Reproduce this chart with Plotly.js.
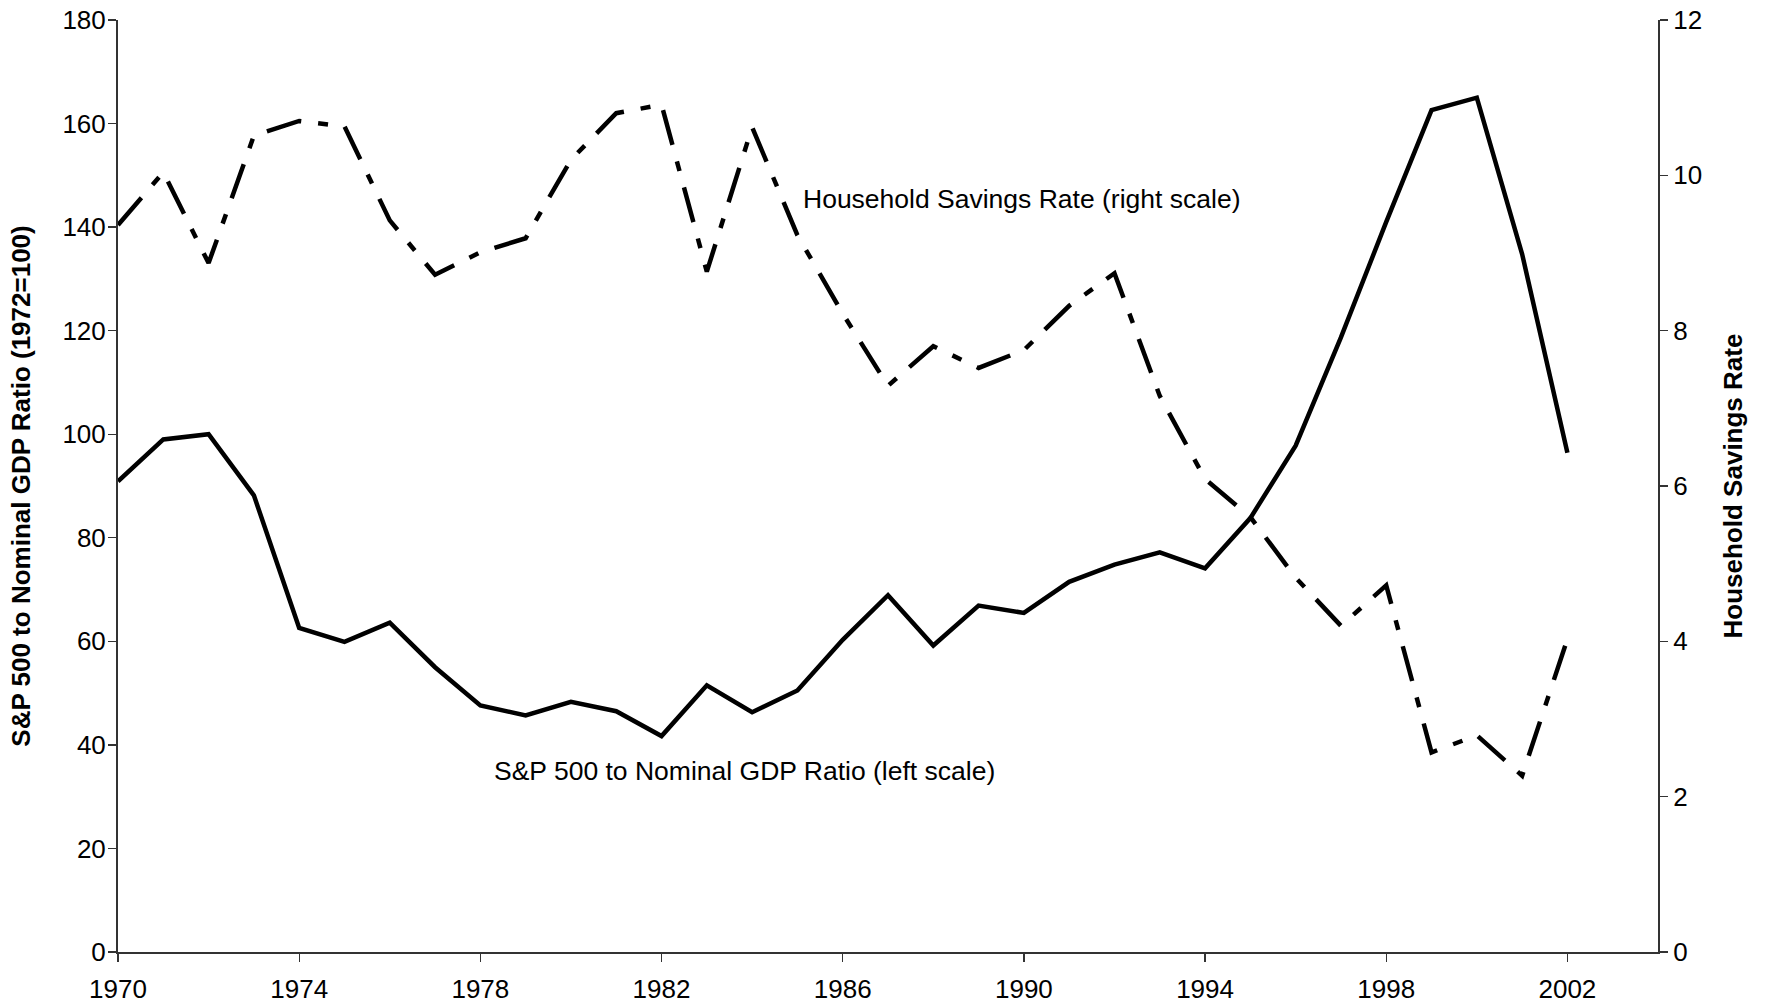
<!DOCTYPE html>
<html>
<head>
<meta charset="utf-8">
<script src="https://cdn.plot.ly/plotly-3.0.1.min.js"></script>
<style>
  html, body { margin: 0; padding: 0; background: #fff; }
  #chart { width: 1765px; height: 1007px; }
</style>
</head>
<body>
<div id="chart"></div>
<script>
const years = [1970,1971,1972,1973,1974,1975,1976,1977,1978,1979,1980,1981,1982,1983,1984,1985,1986,1987,1988,1989,1990,1991,1992,1993,1994,1995,1996,1997,1998,1999,2000,2001,2002];
const spGdpRatio = [90.9,99.0,100.0,88.2,62.6,59.9,63.6,55.0,47.6,45.7,48.3,46.5,41.7,51.5,46.3,50.5,60.3,68.9,59.2,66.9,65.5,71.5,74.8,77.2,74.1,83.8,97.8,118.7,141.0,162.6,165.0,134.8,96.4];
const savingsRate = [9.36,10.04,8.87,10.51,10.70,10.63,9.42,8.72,9.01,9.19,10.20,10.80,10.91,8.76,10.62,9.23,8.22,7.29,7.80,7.52,7.75,8.32,8.74,7.16,6.09,5.60,4.82,4.20,4.72,2.57,2.79,2.27,4.03];
const xTicks = [1970,1974,1978,1982,1986,1990,1994,1998,2002];
const leftTicks = [0,20,40,60,80,100,120,140,160,180];
const rightTicks = [0,2,4,6,8,10,12];

const FONT = 'Liberation Sans, Arial, sans-serif';
const AX = '#333333';
const FS = 26;

const traces = [
  {
    x: years, y: spGdpRatio, type: 'scatter', mode: 'lines',
    name: 'S&P 500 to Nominal GDP Ratio (left scale)',
    line: {color: '#000', width: 4.5}, xaxis: 'x', yaxis: 'y', showlegend: false
  },
  {
    x: years, y: savingsRate, type: 'scatter', mode: 'lines',
    name: 'Household Savings Rate (right scale)',
    line: {color: '#000', width: 4.5, dash: '36px,17px,10px,17px'}, xaxis: 'x', yaxis: 'y2', showlegend: false
  }
];

const layout = {
  width: 1765, height: 1007,
  margin: {l: 118, r: 107, t: 20, b: 55},
  paper_bgcolor: '#fff', plot_bgcolor: '#fff',
  font: {family: FONT, size: FS, color: '#000'},
  showlegend: false,
  xaxis: {
    range: [1970, 2004], tickvals: xTicks, ticktext: xTicks.map(String),
    showgrid: false, zeroline: false, showline: true, linecolor: AX, linewidth: 2,
    ticks: 'outside', ticklen: 8, tickwidth: 1.3, tickcolor: AX, ticklabelstandoff: 5,
    tickfont: {family: FONT, size: FS, color: '#000'}, fixedrange: true, automargin: false
  },
  xaxis2: {
    overlaying: 'x', range: [1970, 2004], tickvals: xTicks, showticklabels: false,
    showgrid: false, zeroline: false, showline: false,
    ticks: 'inside', ticklen: 8, tickwidth: 1.3, tickcolor: AX, anchor: 'y'
  },
  xaxis3: {
    overlaying: 'x', side: 'top', range: [1970, 2004], showticklabels: false,
    showgrid: false, zeroline: false, showline: true, linecolor: '#8c8c8c', linewidth: 2,
    ticks: '', anchor: 'y'
  },
  yaxis: {
    range: [0, 180], tickvals: leftTicks, ticktext: leftTicks.map(String),
    showgrid: false, zeroline: false, showline: true, linecolor: AX, linewidth: 2,
    ticks: 'outside', ticklen: 8, tickwidth: 1.3, tickcolor: AX, ticklabelstandoff: -3,
    tickfont: {family: FONT, size: FS, color: '#000'},
    title: {text: '<b>S&P 500 to Nominal GDP Ratio (1972=100)</b>', font: {family: FONT, size: FS, color: '#000'}, standoff: 24},
    fixedrange: true, automargin: false
  },
  yaxis3: {
    overlaying: 'y', range: [0, 180], tickvals: leftTicks, showticklabels: false,
    showgrid: false, zeroline: false, showline: false,
    ticks: 'inside', ticklen: 8, tickwidth: 1.3, tickcolor: AX, anchor: 'x'
  },
  yaxis2: {
    overlaying: 'y', side: 'right', range: [0, 12], tickvals: rightTicks, ticktext: rightTicks.map(String),
    showgrid: false, zeroline: false, showline: true, linecolor: AX, linewidth: 2,
    ticks: 'outside', ticklen: 8, tickwidth: 1.3, tickcolor: AX,
    tickfont: {family: FONT, size: FS, color: '#000'},
    title: {text: '<b>Household Savings Rate</b>', font: {family: FONT, size: FS, color: '#000'}, standoff: 23},
    anchor: 'x', fixedrange: true, automargin: false
  },
  yaxis4: {
    overlaying: 'y', side: 'right', range: [0, 12], tickvals: rightTicks, showticklabels: false,
    showgrid: false, zeroline: false, showline: false,
    ticks: 'inside', ticklen: 8, tickwidth: 1.3, tickcolor: AX, anchor: 'x'
  },
  annotations: [
    {
      text: 'Household Savings Rate (right scale)', xref: 'x', yref: 'y2',
      x: 1985.08, y: 9.69, xanchor: 'left', yanchor: 'middle', showarrow: false,
      font: {family: FONT, size: 26.5, color: '#000'}
    },
    {
      text: 'S&P 500 to Nominal GDP Ratio (left scale)', xref: 'x', yref: 'y',
      x: 1978.26, y: 34.9, xanchor: 'left', yanchor: 'middle', showarrow: false,
      font: {family: FONT, size: 26.5, color: '#000'}
    }
  ]
};

Plotly.newPlot('chart', traces, layout, {displayModeBar: false, staticPlot: true});
</script>
</body>
</html>
